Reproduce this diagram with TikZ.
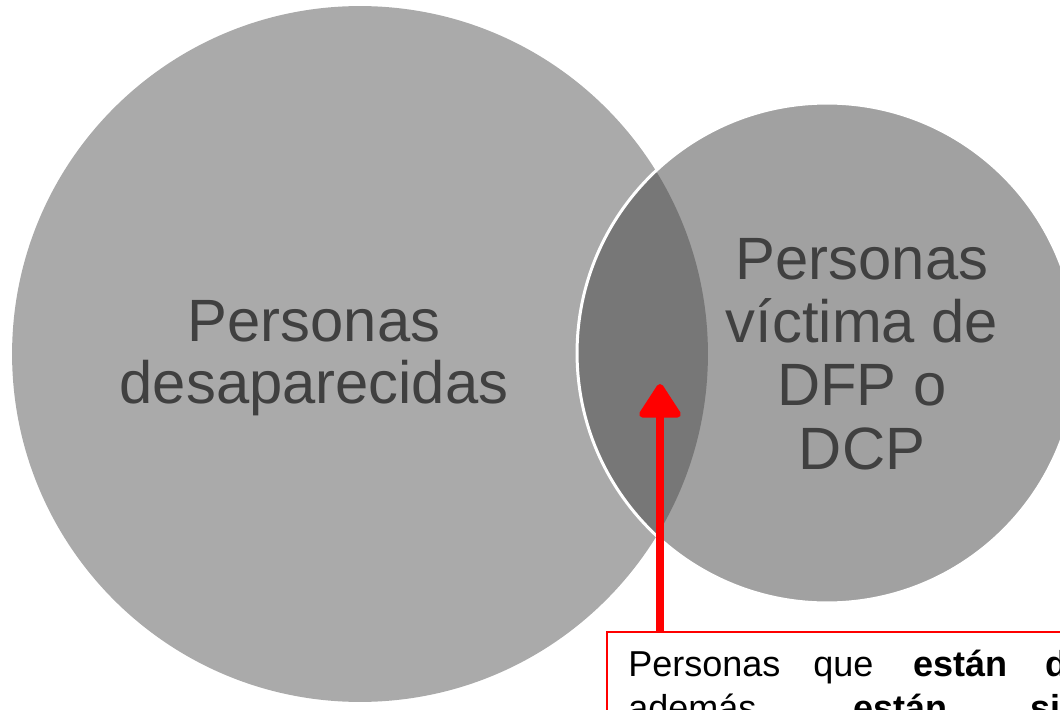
\documentclass[tikz,border=0pt]{standalone}
\usepackage{fontspec}
\setmainfont{Liberation Sans}
\usetikzlibrary{arrows.meta}
\definecolor{bigfill}{HTML}{AAAAAA}
\definecolor{smallfill}{HTML}{A1A1A1}
\definecolor{overlapfill}{HTML}{777777}
\definecolor{labeltext}{HTML}{404040}
\begin{document}
\begin{tikzpicture}[x = 0.02 cm, y = -0.02 cm,
		set/.style = {circle, inner sep = 0 pt},
		setlabel/.style = {align = center, text = labeltext, inner sep = 0 pt, font = \fontsize{34}{35}\selectfont},
		noteline/.style = {anchor = base west, inner sep = 0 pt, font = \fontsize{20.5}{24}\selectfont}
	]
		\useasboundingbox (0, 0) rectangle (1060, 709);
		\clip (0, 0) rectangle (1060, 709);
		\node (big) [set, fill = bigfill, minimum size = 13.92 cm] at (360, 354) {};
		\node (small) [set, fill = smallfill, minimum size = 10 cm] at (827, 353) {};
		\begin{scope}
			\clip (big.center) circle (6.96 cm);
			\fill [overlapfill] (small.center) circle (5 cm);
		\end{scope}
		\draw [white, line width = 1.7 pt] (small.center) circle (5 cm);
		\node (bigtext) [setlabel] at (314, 358) {Personas\\desaparecidas};
		\node (smalltext) [setlabel, font = \fontsize{34}{36}\selectfont] at (862, 354) {Personas\\víctima de\\DFP o\\DCP};
		\node (note) [draw = red, line width = 0.85 pt, fill = white, anchor = north west, minimum width = 10 cm, minimum height = 4 cm] at (606, 631) {};
		\node (noteA) [noteline] at (628, 676) {\makebox[3.7 cm][l]{Personas}\makebox[2 cm][l]{que}\makebox[2.64 cm][l]{\textbf{están}}\textbf{desaparecidas}};
		\node (noteB) [noteline] at (628, 720) {\makebox[4.5 cm][l]{además}\makebox[3.54 cm][l]{\textbf{están}}\textbf{siendo}};
		\coordinate (tip) at (660, 384);
		\draw [red, line width = 4pt, -{Triangle[width=26pt, length=21pt, round]}] (note.north -| tip) -- (tip);
	\end{tikzpicture}
\end{document}
